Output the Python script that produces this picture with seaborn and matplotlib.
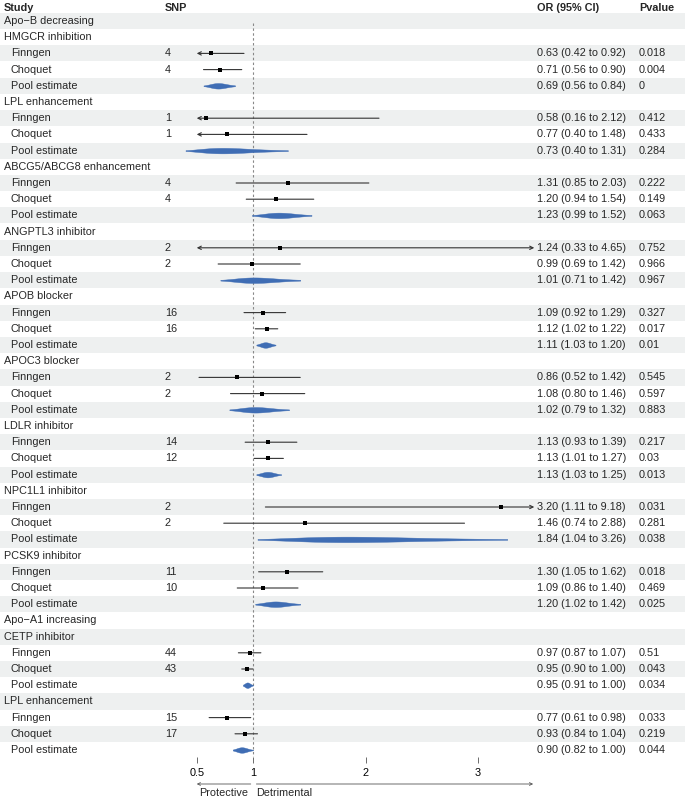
import numpy as np
import pandas as pd
import matplotlib
matplotlib.use("Agg")
import matplotlib.pyplot as plt
import seaborn as sns

# ---------------- data ----------------
sections = ["Apo−B decreasing", "Apo−A1 increasing"]
targets = ["HMGCR inhibition", "LPL enhancement", "ABCG5/ABCG8 enhancement",
           "ANGPTL3 inhibitor", "APOB blocker", "APOC3 blocker", "LDLR inhibitor",
           "NPC1L1 inhibitor", "PCSK9 inhibitor", "CETP inhibitor", "LPL enhancement"]
target_section = [0, 0, 0, 0, 0, 0, 0, 0, 0, 1, 1]

snp_finngen = [4, 1, 4, 2, 16, 2, 14, 2, 11, 44, 15]
snp_choquet = [4, 1, 4, 2, 16, 2, 12, 2, 10, 43, 17]

or_finngen = [0.63, 0.58, 1.31, 1.24, 1.09, 0.86, 1.13, 3.20, 1.30, 0.97, 0.77]
lo_finngen = [0.42, 0.16, 0.85, 0.33, 0.92, 0.52, 0.93, 1.11, 1.05, 0.87, 0.61]
hi_finngen = [0.92, 2.12, 2.03, 4.65, 1.29, 1.42, 1.39, 9.18, 1.62, 1.07, 0.98]
p_finngen = ["0.018", "0.412", "0.222", "0.752", "0.327", "0.545", "0.217", "0.031", "0.018", "0.51", "0.033"]

or_choquet = [0.71, 0.77, 1.20, 0.99, 1.12, 1.08, 1.13, 1.46, 1.09, 0.95, 0.93]
lo_choquet = [0.56, 0.40, 0.94, 0.69, 1.02, 0.80, 1.01, 0.74, 0.86, 0.90, 0.84]
hi_choquet = [0.90, 1.48, 1.54, 1.42, 1.22, 1.46, 1.27, 2.88, 1.40, 1.00, 1.04]
p_choquet = ["0.004", "0.433", "0.149", "0.966", "0.017", "0.597", "0.03", "0.281", "0.469", "0.043", "0.219"]

or_pool = [0.69, 0.73, 1.23, 1.01, 1.11, 1.02, 1.13, 1.84, 1.20, 0.95, 0.90]
lo_pool = [0.56, 0.40, 0.99, 0.71, 1.03, 0.79, 1.03, 1.04, 1.02, 0.91, 0.82]
hi_pool = [0.84, 1.31, 1.52, 1.42, 1.20, 1.32, 1.25, 3.26, 1.42, 1.00, 1.00]
p_pool = ["0", "0.284", "0.063", "0.967", "0.01", "0.883", "0.013", "0.038", "0.025", "0.034", "0.044"]

x_ticks = [0.5, 1, 2, 3]
x_limits = (0.5, 3.5)

# ---------------- build rows ----------------
rows = []
cur_sec = None
for k, t in enumerate(targets):
    if target_section[k] != cur_sec:
        cur_sec = target_section[k]
        rows.append(dict(kind="section", label=sections[cur_sec]))
    rows.append(dict(kind="target", label=t))
    rows.append(dict(kind="study", label="Finngen", snp=snp_finngen[k], est=or_finngen[k],
                     lo=lo_finngen[k], hi=hi_finngen[k], p=p_finngen[k]))
    rows.append(dict(kind="study", label="Choquet", snp=snp_choquet[k], est=or_choquet[k],
                     lo=lo_choquet[k], hi=hi_choquet[k], p=p_choquet[k]))
    rows.append(dict(kind="pool", label="Pool estimate", snp=None, est=or_pool[k],
                     lo=lo_pool[k], hi=hi_pool[k], p=p_pool[k]))
df = pd.DataFrame(rows)
df["row"] = np.arange(len(df))
n = len(df)

# ---------------- figure / layout ----------------
sns.set_theme(style="white")
plt.rcParams["font.family"] = ["Liberation Sans", "DejaVu Sans"]
FS = 7.8

W, H = 685, 800
fig = plt.figure(figsize=(W / 100, H / 100), dpi=100)
y0_px, dy_px = 21.0, 16.2           # first row centre and row pitch (pixels)
x1_px, unit_px = 253.0, 112.5       # pixel of OR=1 and pixels per OR unit

top_row = (0 - y0_px) / dy_px
fig_bottom_row = (H - y0_px) / dy_px

# text / background axes
axt = fig.add_axes([0, 0, 1, 1])
axt.set_xlim(0, W)
axt.set_ylim(fig_bottom_row, top_row)
axt.axis("off")

# forest axes (x axis ticks at bottom)
axis_px = 757.0
axf = fig.add_axes([0, (H - axis_px) / H, 1, axis_px / H])
axf.set_facecolor("none")
axf.set_xlim(1 + (0 - x1_px) / unit_px, 1 + (W - x1_px) / unit_px)
axf.set_ylim((axis_px - y0_px) / dy_px, top_row)
for s in axf.spines.values():
    s.set_visible(False)
axf.set_yticks([])
axf.set_xticks(x_ticks)
axf.set_xticklabels([f"{v:g}" for v in x_ticks], fontsize=FS)
axf.tick_params(axis="x", bottom=True, direction="out", length=4.5, width=0.6,
                color="#555555", pad=3.5, labelcolor="black")
axf.grid(False)

# stripes
for r in df["row"]:
    if r % 2 == 0:
        axt.axhspan(r - 0.5, r + 0.5, color="#EEF0F0", lw=0, zorder=0)

# header
hy = -0.8
for xp, txt in [(4, "Study"), (165, "SNP"), (537, "OR (95% CI)"), (639, "Pvalue")]:
    axt.text(xp, hy, txt, fontsize=FS, fontweight="bold", va="center", ha="left")

# text columns
for _, r in df.iterrows():
    y = r["row"]
    xp = 4 if r["kind"] in ("section", "target") else 11
    axt.text(xp, y, r["label"], fontsize=FS, va="center", ha="left")
    if r["kind"] in ("study", "pool"):
        if r["kind"] == "study":
            axt.text(165, y, f"{int(r['snp'])}", fontsize=FS, va="center", ha="left")
        axt.text(537, y, f"{r['est']:.2f} ({r['lo']:.2f} to {r['hi']:.2f})",
                 fontsize=FS, va="center", ha="left")
        axt.text(639, y, r["p"], fontsize=FS, va="center", ha="left")

# reference line
axf.vlines(1, 0.1, n - 0.5, colors="#888888", linestyles=(0, (2.2, 2.2)), lw=0.8, zorder=1)

# study CIs
studies = df[df["kind"] == "study"]
for _, r in studies.iterrows():
    lo_c = max(r["lo"], x_limits[0])
    hi_c = min(r["hi"], x_limits[1])
    style = ("<" if r["lo"] < x_limits[0] else "") + "-" + (">" if r["hi"] > x_limits[1] else "")
    axf.annotate("", xy=(hi_c, r["row"]), xytext=(lo_c, r["row"]),
                 arrowprops=dict(arrowstyle=style, color="#333333", lw=0.8,
                                 shrinkA=0, shrinkB=0, mutation_scale=6), zorder=2)
sns.scatterplot(data=studies, x="est", y="row", marker="s", color="black", s=5,
                linewidth=0, ax=axf, legend=False, zorder=3)
axf.set_xlabel("")
axf.set_ylabel("")

# pooled estimate shapes (normal profile on log scale)
blue = "#3F6DB4"
half_h = 0.17
for _, r in df[df["kind"] == "pool"].iterrows():
    t = np.linspace(np.log(r["lo"]), np.log(r["hi"]), 300)
    se = (np.log(r["hi"]) - np.log(r["lo"])) / (2 * 1.96)
    h = half_h * np.exp(-0.5 * ((t - np.log(r["est"])) / se) ** 2)
    xs = np.exp(t)
    axf.fill_between(xs, r["row"] - h, r["row"] + h, color=blue, lw=0.3,
                     edgecolor=blue, zorder=3)

# direction arrows and labels below axis
arr_row = (784 - y0_px) / dy_px
lab_row = (793 - y0_px) / dy_px
axf.annotate("", xy=(x_limits[0], arr_row), xytext=(0.98, arr_row),
             arrowprops=dict(arrowstyle="->", color="#555555", lw=0.6, shrinkA=0, shrinkB=0,
                             mutation_scale=5), annotation_clip=False)
axf.annotate("", xy=(x_limits[1] - 0.01, arr_row), xytext=(1.03, arr_row),
             arrowprops=dict(arrowstyle="->", color="#555555", lw=0.6, shrinkA=0, shrinkB=0,
                             mutation_scale=5), annotation_clip=False)
axf.text(0.52, lab_row, "Protective", fontsize=FS, va="center", ha="left", clip_on=False)
axf.text(1.03, lab_row, "Detrimental", fontsize=FS, va="center", ha="left", clip_on=False)

fig.savefig("out.png", dpi=100)
